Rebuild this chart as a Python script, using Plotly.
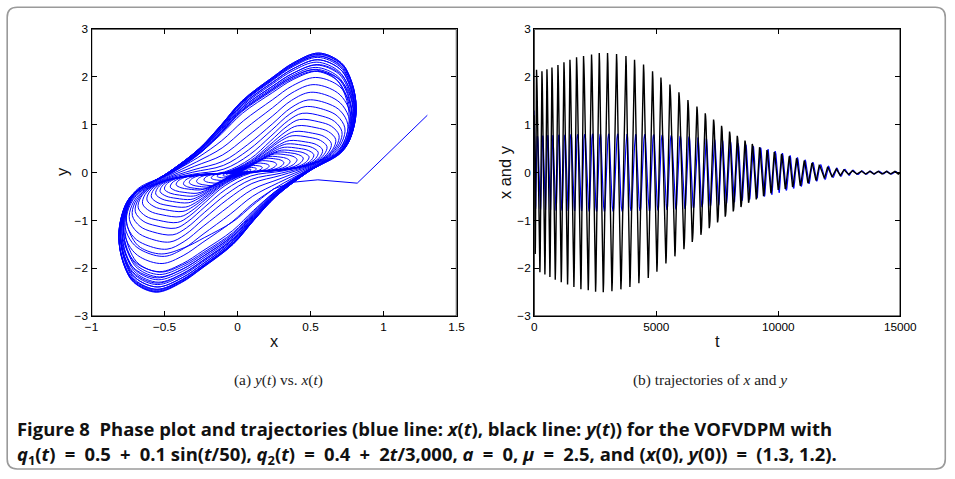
import numpy as np
import plotly.graph_objects as go

# ---------------- data ----------------
# y(t) troughs (each one precedes the peak of the same cycle) and peaks
T_TROUGH = [41, 232, 437, 642, 861, 1107, 1366, 1625, 1912, 2213, 2514, 2828, 3183, 3551,
            3920, 4288, 4672, 5027, 5396, 5765, 6134, 6475, 6830, 7172, 7512, 7827, 8155,
            8471, 8783, 9098, 9397, 9700, 9999, 10286, 10586, 10901, 11216, 11544, 11884,
            12199, 12527, 12867, 13208, 13560, 13900, 14240, 14580, 14920]
Y_TROUGH = [-1.70, -2.08, -2.13, -2.18, -2.24, -2.29, -2.34, -2.39, -2.44, -2.46, -2.49,
            -2.50, -2.48, -2.44, -2.39, -2.31, -2.20, -2.07, -1.90, -1.75, -1.60, -1.45,
            -1.30, -1.16, -1.04, -0.92, -0.81, -0.72, -0.63, -0.56, -0.49, -0.43, -0.36,
            -0.34, -0.30, -0.27, -0.22, -0.16, -0.11, -0.08, -0.06, -0.04, -0.03, -0.03,
            -0.03, -0.03, -0.03, -0.03]
T_PEAK = [94, 315, 520, 725, 971, 1217, 1463, 1734, 2020, 2348, 2664, 3004, 3373, 3758,
          4110, 4479, 4848, 5191, 5560, 5929, 6298, 6667, 7008, 7348, 7676, 8004, 8319,
          8635, 8934, 9233, 9536, 9835, 10134, 10449, 10748, 11064, 11379, 11679, 12019,
          12363, 12675, 13019, 13388, 13728, 14068, 14412, 14753]
Y_PEAK = [2.15, 2.12, 2.16, 2.20, 2.25, 2.31, 2.36, 2.41, 2.44, 2.47, 2.50, 2.50, 2.48,
          2.44, 2.36, 2.26, 2.12, 1.99, 1.84, 1.68, 1.52, 1.38, 1.24, 1.11, 0.98, 0.86,
          0.77, 0.67, 0.60, 0.53, 0.47, 0.43, 0.39, 0.34, 0.30, 0.25, 0.20, 0.15, 0.11,
          0.08, 0.06, 0.04, 0.035, 0.03, 0.03, 0.03, 0.03]
# x(t) amplitude of each cycle
X_AMP = [0.76, 0.77, 0.78, 0.78, 0.79, 0.79, 0.80, 0.80, 0.80, 0.81, 0.81, 0.81, 0.81,
         0.81, 0.80, 0.80, 0.80, 0.79, 0.78, 0.77, 0.76, 0.74, 0.72, 0.70, 0.68, 0.65,
         0.62, 0.59, 0.56, 0.53, 0.50, 0.46, 0.42, 0.37, 0.33, 0.28, 0.23, 0.18, 0.14,
         0.10, 0.075, 0.055, 0.04, 0.035, 0.03, 0.03, 0.03]

# loop outlines: trough -> peak half of the outermost loop
OUTER_X = [-0.55, -0.70, -0.76, -0.80, -0.79, -0.72, -0.47, -0.26, -0.11, 0.03, 0.24, 0.38, 0.55]
OUTER_Y = [-2.5, -2.3, -2.0, -1.5, -1.0, -0.5, 0.0, 0.5, 1.0, 1.5, 2.0, 2.3, 2.5]
# ... and of an inner (pinched) loop
INNER_X = [-0.47, -0.62, -0.72, -0.78, -0.76, -0.68, -0.55, -0.35, -0.10, 0.10, 0.25, 0.38, 0.47]
INNER_Y = [-1.2, -1.15, -1.05, -0.85, -0.6, -0.35, -0.18, -0.08, 0.0, 0.3, 0.7, 1.05, 1.2]

# start of the run (coarse first steps) and end of the run
START_T = [0, 8, 16, 24]
START_X = [1.3, 0.82, 0.55, 0.38]
START_Y = [1.2, -0.22, -0.15, -0.20]
END_T, END_X, END_Y = 15000, 0.0, 0.0

# axis ranges and ticks
XR_A, YR = [-1, 1.5], [-3, 3]
XR_B = [0, 15000]
XT_A = [-1, -0.5, 0, 0.5, 1, 1.5]
XT_B = [0, 5000, 10000, 15000]
YT = [-3, -2, -1, 0, 1, 2, 3]

# ---------------- build the trajectory ----------------
ox = np.array(OUTER_X) / max(abs(v) for v in OUTER_X)
oy = np.array(OUTER_Y) / max(abs(v) for v in OUTER_Y)
ix = np.array(INNER_X) / max(abs(v) for v in INNER_X)
iy = np.array(INNER_Y) / max(abs(v) for v in INNER_Y)
npt = len(OUTER_X)
frac = np.arange(npt) / (npt - 1)


def shape(k):
    r = Y_PEAK[k] / X_AMP[k]
    w = min(max((r - 1.55) / (2.7 - 1.55), 0.0), 1.0)
    return w * ox + (1 - w) * ix, w * oy + (1 - w) * iy


T, X, Y = list(START_T), list(START_X), list(START_Y)
n_start = len(START_T)

# first descent to the first trough
ux, uy = shape(0)
sel = list(range(7, npt - 1))
for n, j in enumerate(sel):
    f = (n + 1) / (len(sel) + 1)
    T.append(START_T[-1] + f * (T_TROUGH[0] - START_T[-1]))
    X.append(-ux[j] * X_AMP[0])
    Y.append(-uy[j] * abs(Y_TROUGH[0]))

ncyc = len(T_PEAK)
for k in range(ncyc):
    ux, uy = shape(k)
    a0 = X_AMP[k]
    a1 = X_AMP[k + 1] if k + 1 < ncyc else X_AMP[k]
    # rising stroke: trough k -> peak k
    for j in range(npt):
        T.append(T_TROUGH[k] + frac[j] * (T_PEAK[k] - T_TROUGH[k]))
        X.append(ux[j] * a0)
        Y.append(uy[j] * (abs(Y_TROUGH[k]) if uy[j] < 0 else Y_PEAK[k]))
    # falling stroke: peak k -> trough k+1
    for j in range(1, npt - 1):
        f = frac[j]
        dx, dy = -ux[j], -uy[j]
        T.append(T_PEAK[k] + f * (T_TROUGH[k + 1] - T_PEAK[k]))
        X.append(dx * (a0 * (1 - f) + a1 * f))
        Y.append(dy * (Y_PEAK[k] if dy > 0 else abs(Y_TROUGH[k + 1])))

ux, uy = shape(ncyc - 1)
T.append(T_TROUGH[-1]); X.append(ux[0] * X_AMP[-1]); Y.append(Y_TROUGH[-1])
T.append(END_T); X.append(END_X); Y.append(END_Y)

# ---------------- figure ----------------
# the page keeps the default 8 px body margin and the shot comes out ~2.5 % smaller,
# so window positions are mapped to figure positions with both corrections
PAGE_W, PAGE_H, M, S = 955, 479, 8, 0.975
W, H = int(round(PAGE_W / S - 2 * M)), int(round(PAGE_H / S - 2 * M))


def px(x):
    return (x / S - M) / W


def py(y):
    return 1 - (y / S - M) / H


def fs(size):
    return round(size / S, 2)


fig = go.Figure()
# coarse first steps: straight segments
fig.add_trace(go.Scatter(x=X[:n_start + 1], y=Y[:n_start + 1], mode="lines",
                         line=dict(color="#0000ff", width=1), xaxis="x", yaxis="y",
                         showlegend=False, hoverinfo="skip"))
fig.add_trace(go.Scatter(x=X[n_start:], y=Y[n_start:], mode="lines",
                         line=dict(color="#0000ff", width=1, shape="spline", smoothing=1.0),
                         xaxis="x", yaxis="y", showlegend=False, hoverinfo="skip"))
fig.add_trace(go.Scatter(x=T, y=X, mode="lines", line=dict(color="#0000ff", width=1.2),
                         xaxis="x2", yaxis="y2", showlegend=False, hoverinfo="skip"))
fig.add_trace(go.Scatter(x=T, y=Y, mode="lines", line=dict(color="#000000", width=1.4),
                         xaxis="x2", yaxis="y2", showlegend=False, hoverinfo="skip"))

# box frame of each axes, drawn along the axis range limits
for (xa, ya), xr in ((("x", "y"), XR_A), (("x2", "y2"), XR_B)):
    fig.add_trace(go.Scatter(x=[xr[0], xr[1], xr[1], xr[0], xr[0]], y=[YR[0], YR[0], YR[1], YR[1], YR[0]],
                             mode="lines", line=dict(color="#000000", width=1.4), cliponaxis=False,
                             xaxis=xa, yaxis=ya, showlegend=False, hoverinfo="skip"))

tickfont = dict(family="Liberation Sans, Arial, sans-serif", size=fs(11.5), color="#000000")
axcommon = dict(showgrid=False, zeroline=False, showline=True, linecolor="#000000", linewidth=1.2,
                mirror="allticks", ticks="inside", ticklen=5, tickcolor="#000000", tickwidth=1.2,
                tickfont=tickfont, fixedrange=True)

L1, R1, L2, R2, TOP, BOT = 92.3, 457.3, 535, 901, 30, 317.7
ydom = [py(BOT), py(TOP)]
fig.update_layout(
    width=W, height=H, margin=dict(l=0, r=0, t=0, b=0),
    paper_bgcolor="white", plot_bgcolor="white",
    xaxis=dict(domain=[px(L1), px(R1)], range=XR_A, tickvals=XT_A, anchor="y", **axcommon),
    yaxis=dict(domain=ydom, range=YR, tickvals=YT, anchor="x", **axcommon),
    xaxis2=dict(domain=[px(L2), px(R2)], range=XR_B, tickvals=XT_B,
                ticktext=[str(v) for v in XT_B], anchor="y2", **axcommon),
    yaxis2=dict(domain=ydom, range=YR, tickvals=YT, anchor="x2", **axcommon),
)

labfont = dict(family="Liberation Sans, Arial, sans-serif", size=fs(16), color="#111")
ann = [
    dict(text="x", x=px(275), y=py(343), font=labfont),
    dict(text="y", x=px(63), y=py(173), font=labfont, textangle=-90),
    dict(text="t", x=px(718), y=py(343), font=labfont),
    dict(text="x and y", x=px(506), y=py(173), font=labfont, textangle=-90),
]
serif = dict(family="Liberation Serif, Times New Roman, serif", size=fs(15), color="#222")
ann += [
    dict(text="(a) <i>y</i>(<i>t</i>) vs. <i>x</i>(<i>t</i>)", x=px(279), y=py(382), font=serif),
    dict(text="(b) trajectories of <i>x</i> and <i>y</i>", x=px(711), y=py(382), font=serif),
]
capfont = dict(family="Open Sans, Liberation Sans, sans-serif", size=fs(18), color="#111")
E = "\u2002"
line1 = ("<b>Figure 8\u00a0\u00a0Phase plot and trajectories (blue line: <i>x</i>(<i>t</i>), "
         "black line: <i>y</i>(<i>t</i>)) for the VOFVDPM with</b>")
line2 = (f"<b><i>q</i><sub>1</sub>(<i>t</i>){E}={E}0.5{E}+{E}0.1 sin(<i>t</i>/50), "
         f"<i>q</i><sub>2</sub>(<i>t</i>){E}={E}0.4{E}+{E}2<i>t</i>/3,000, <i>a</i>{E}={E}0, "
         f"<i>μ</i>{E}={E}2.5, and (<i>x</i>(0), <i>y</i>(0)){E}={E}(1.3, 1.2).</b>")
ann += [
    dict(text=line1, x=px(16), y=py(430), font=capfont, xanchor="left"),
    dict(text=line2, x=px(16), y=py(457), font=capfont, xanchor="left"),
]
for a in ann:
    a.setdefault("xanchor", "center")
    a.update(xref="paper", yref="paper", yanchor="middle", showarrow=False)
fig.update_layout(annotations=ann)

# rounded frame around the whole figure
x0, x1, y0, y1, r = 8, 946, 8, 471, 10
path = (f"M {px(x0 + r):.5f},{py(y0):.5f} L {px(x1 - r):.5f},{py(y0):.5f} "
        f"Q {px(x1):.5f},{py(y0):.5f} {px(x1):.5f},{py(y0 + r):.5f} "
        f"L {px(x1):.5f},{py(y1 - r):.5f} Q {px(x1):.5f},{py(y1):.5f} {px(x1 - r):.5f},{py(y1):.5f} "
        f"L {px(x0 + r):.5f},{py(y1):.5f} Q {px(x0):.5f},{py(y1):.5f} {px(x0):.5f},{py(y1 - r):.5f} "
        f"L {px(x0):.5f},{py(y0 + r):.5f} Q {px(x0):.5f},{py(y0):.5f} {px(x0 + r):.5f},{py(y0):.5f} Z")
fig.add_shape(type="path", path=path, xref="paper", yref="paper",
              line=dict(color="#9a9a9a", width=1.6), fillcolor="rgba(0,0,0,0)", layer="below")

fig.write_html("out.html")
